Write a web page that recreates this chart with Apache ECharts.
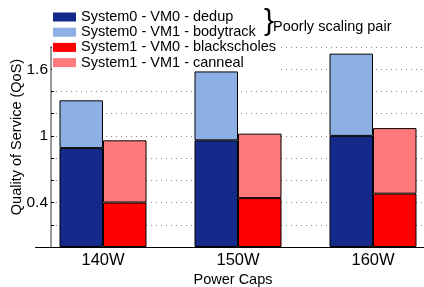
<!DOCTYPE html>
<html>
<head>
<meta charset="utf-8">
<script src="https://cdn.jsdelivr.net/npm/echarts@6/dist/echarts.min.js"></script>
<style>
	html,body{margin:0;padding:0;background:#fff;}
	#chart{width:424px;height:287px;}
</style>
</head>
<body>
<div id="chart"></div>
<script>
	// categories and stacked values
	var powerCaps = ['140W', '150W', '160W'];
	var dedup = [0.89, 0.96, 1.00];
	var bodytrack = [0.43, 0.62, 0.74];
	var blackscholes = [0.40, 0.44, 0.48];
	var canneal = [0.56, 0.58, 0.59];
	var yTickLabels = ['0.4', '1', '1.6'];

	var font = 'Liberation Sans, Arial, sans-serif';
	var chart = echarts.init(document.getElementById('chart'));

	function barStyle(color){
		return {color: color, borderColor: '#000', borderWidth: 1};
	}

	var option = {
		animation: false,
		textStyle: {fontFamily: font},
		legend: {
			orient: 'vertical',
			left: 52,
			top: 8.5,
			padding: [1, 3, 1, 1],
			backgroundColor: '#fff',
			itemWidth: 23,
			itemHeight: 9,
			itemGap: 0.2,
			icon: 'rect',
			itemStyle: {borderWidth: 0},
			textStyle: {fontSize: 14.5, lineHeight: 14, color: '#000', fontFamily: font},
			data: ['System0 - VM0 - dedup', 'System0 - VM1 - bodytrack', 'System1 - VM0 - blackscholes', 'System1 - VM1 - canneal']
		},
		grid: [
			{left: 51, right: 0, top: 47, bottom: 40, outerBoundsMode: 'none'},
			{left: 35.5, width: 405, top: 47, bottom: 40, outerBoundsMode: 'none'}
		],
		xAxis: [
			{gridIndex: 0, type: 'category', data: powerCaps, show: false},
			{
				gridIndex: 1, type: 'category', data: powerCaps,
				axisLine: {lineStyle: {color: '#000', width: 1}},
				axisTick: {show: false},
				axisLabel: {fontSize: 16.5, color: '#000', margin: 5, fontFamily: font}
			}
		],
		yAxis: [
			{
				gridIndex: 0, type: 'value', min: 0, max: 1.8, interval: 0.2,
				axisLine: {show: true, lineStyle: {color: '#777', width: 1.5}},
				axisTick: {show: true, inside: true, length: 3, lineStyle: {color: '#000'}},
				axisLabel: {
					fontSize: 15.5, color: '#000', margin: 3, fontFamily: font,
					formatter: function(v){
						for (var i = 0; i < yTickLabels.length; i++) {
							if (Math.abs(parseFloat(yTickLabels[i]) - v) < 1e-6) return yTickLabels[i];
						}
						return '';
					}
				},
				splitLine: {show: true, lineStyle: {color: '#888', type: [1, 4], width: 1}}
			},
			{gridIndex: 1, type: 'value', min: 0, max: 1.8, show: false}
		],
		series: [
			{name: 'System0 - VM0 - dedup', type: 'bar', xAxisIndex: 1, yAxisIndex: 1, stack: 'sys0', barWidth: 43.5, barGap: '0%', itemStyle: barStyle('#132a8a'), data: dedup},
			{name: 'System0 - VM1 - bodytrack', type: 'bar', xAxisIndex: 1, yAxisIndex: 1, stack: 'sys0', barWidth: 43.5, barGap: '0%', itemStyle: barStyle('#8cb0e4'), data: bodytrack},
			{name: 'System1 - VM0 - blackscholes', type: 'bar', xAxisIndex: 1, yAxisIndex: 1, stack: 'sys1', barWidth: 43.5, barGap: '0%', itemStyle: barStyle('#ff0000'), data: blackscholes},
			{name: 'System1 - VM1 - canneal', type: 'bar', xAxisIndex: 1, yAxisIndex: 1, stack: 'sys1', barWidth: 43.5, barGap: '0%', itemStyle: barStyle('#ff7b7b'), data: canneal}
		],
		graphic: [
			{type: 'text', left: 264, top: 7, z: 100, style: {text: '}', fontSize: 30, fontFamily: font, fill: '#000'}},
			{type: 'text', left: 273, top: 19, z: 100, style: {text: 'Poorly scaling pair', fontSize: 14.5, fontFamily: font, fill: '#000'}},
			{type: 'text', x: 16.5, y: 137, rotation: Math.PI / 2, style: {text: 'Quality of Service (QoS)', fontSize: 14.5, fontFamily: font, fill: '#000', align: 'center', verticalAlign: 'middle'}},
			{type: 'text', x: 233, y: 280, style: {text: 'Power Caps', fontSize: 14.5, fontFamily: font, fill: '#000', align: 'center', verticalAlign: 'middle'}}
		]
	};
	chart.setOption(option);
</script>
</body>
</html>
